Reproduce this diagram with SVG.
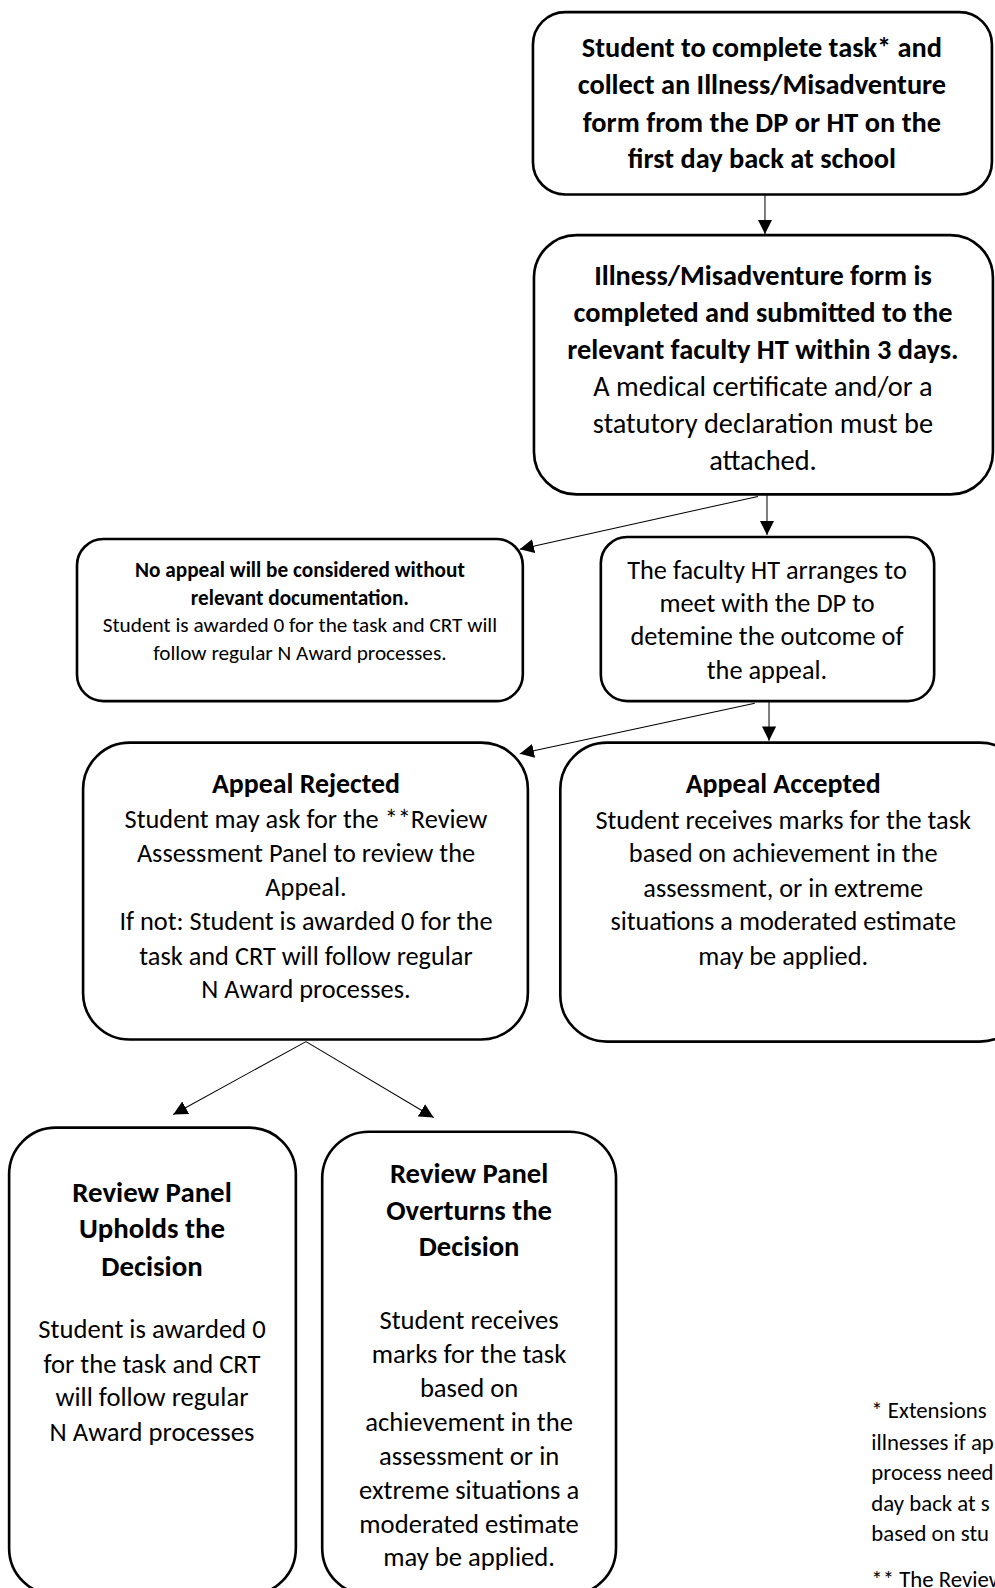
<svg xmlns="http://www.w3.org/2000/svg" width="995" height="1588" viewBox="0 0 995 1588">
<defs>
<marker id="ahb" viewBox="0 0 10 10" refX="10" refY="5" markerWidth="14" markerHeight="14" markerUnits="userSpaceOnUse" orient="auto">
<path d="M0,0 L10,5 L0,10 z" fill="#000"/>
</marker>
</defs>
<style>
.box{fill:#fff;stroke:#000;stroke-width:2.6}
text{font-family:Carlito,Calibri,Lato,"Liberation Sans",sans-serif;fill:#000;text-anchor:middle}
.b{font-weight:bold}
.c{stroke:#000;stroke-width:1;fill:none}
.fn{text-anchor:start;font-size:22.5px}
</style>
<rect width="995" height="1588" fill="#fff"/>
<g transform="scale(1.0132)">
<g id="connectors">
<line class="c" x1="755" y1="192" x2="755" y2="231" marker-end="url(#ahb)"/>
<line class="c" x1="757" y1="488" x2="757" y2="528" marker-end="url(#ahb)"/>
<line class="c" x1="748" y1="490" x2="513" y2="542" marker-end="url(#ahb)"/>
<line class="c" x1="759" y1="692" x2="759" y2="731" marker-end="url(#ahb)"/>
<line class="c" x1="745" y1="694" x2="513" y2="744" marker-end="url(#ahb)"/>
<line class="c" x1="302" y1="1028" x2="171" y2="1100" marker-end="url(#ahb)"/>
<line class="c" x1="302" y1="1028" x2="428" y2="1103" marker-end="url(#ahb)"/>
</g>
<g id="n1">
<rect class="box" x="526" y="12" width="453" height="180" rx="32"/>
<text class="b" font-size="28"><tspan x="752" y="56">Student to complete task* and</tspan><tspan x="752" y="93">collect an Illness/Misadventure</tspan><tspan x="752" y="130">form from the DP or HT on the</tspan><tspan x="752" y="166">first day back at school</tspan></text>
</g>
<g id="n2">
<rect class="box" x="527" y="232" width="453" height="256" rx="42"/>
<text font-size="28"><tspan class="b" x="753" y="281">Illness/Misadventure form is</tspan><tspan class="b" x="753" y="318">completed and submitted to the</tspan><tspan class="b" x="753" y="354">relevant faculty HT within 3 days.</tspan><tspan x="753" y="391">A medical certificate and/or a</tspan><tspan x="753" y="427">statutory declaration must be</tspan><tspan x="753" y="464">attached.</tspan></text>
</g>
<g id="n3">
<rect class="box" x="76" y="532" width="440" height="160" rx="26"/>
<text font-size="21"><tspan class="b" x="296" y="569">No appeal will be considered without</tspan><tspan class="b" x="296" y="597">relevant documentation.</tspan><tspan x="296" y="624">Student is awarded 0 for the task and CRT will</tspan><tspan x="296" y="651">follow regular N Award processes.</tspan></text>
</g>
<g id="n4">
<rect class="box" x="593" y="530" width="329" height="162" rx="26"/>
<text font-size="26"><tspan x="757" y="571">The faculty HT arranges to</tspan><tspan x="757" y="604">meet with the DP to</tspan><tspan x="757" y="637">detemine the outcome of</tspan><tspan x="757" y="670">the appeal.</tspan></text>
</g>
<g id="n5">
<rect class="box" x="82" y="733" width="439" height="293" rx="46"/>
<text font-size="26"><tspan class="b" font-size="27.5" x="302" y="783">Appeal Rejected</tspan><tspan x="302" y="817">Student may ask for the **Review</tspan><tspan x="302" y="851">Assessment Panel to review the</tspan><tspan x="302" y="884">Appeal.</tspan><tspan x="302" y="918">If not: Student is awarded 0 for the</tspan><tspan x="302" y="952">task and CRT will follow regular</tspan><tspan x="302" y="985">N Award processes.</tspan></text>
</g>
<g id="n6">
<rect class="box" x="553" y="733" width="460" height="295" rx="46"/>
<text font-size="26"><tspan class="b" font-size="27.5" x="773" y="783">Appeal Accepted</tspan><tspan x="773" y="818">Student receives marks for the task</tspan><tspan x="773" y="851">based on achievement in the</tspan><tspan x="773" y="885">assessment, or in extreme</tspan><tspan x="773" y="918">situations a moderated estimate</tspan><tspan x="773" y="952">may be applied.</tspan></text>
</g>
<g id="n7">
<rect class="box" x="9" y="1113" width="283" height="461" rx="46"/>
<text font-size="26.3"><tspan class="b" font-size="28.5" x="150" y="1186">Review Panel</tspan><tspan class="b" font-size="28.5" x="150" y="1222">Upholds the</tspan><tspan class="b" font-size="28.5" x="150" y="1259">Decision</tspan><tspan x="150" y="1321">Student is awarded 0</tspan><tspan x="150" y="1355">for the task and CRT</tspan><tspan x="150" y="1388">will follow regular</tspan><tspan x="150" y="1422">N Award processes</tspan></text>
</g>
<g id="n8">
<rect class="box" x="318" y="1117" width="290" height="457" rx="46"/>
<text font-size="26.3"><tspan class="b" font-size="28.3" x="463" y="1168">Review Panel</tspan><tspan class="b" font-size="28.3" x="463" y="1204">Overturns the</tspan><tspan class="b" font-size="28.3" x="463" y="1240">Decision</tspan><tspan x="463" y="1312">Student receives</tspan><tspan x="463" y="1345">marks for the task</tspan><tspan x="463" y="1379">based on</tspan><tspan x="463" y="1412">achievement in the</tspan><tspan x="463" y="1446">assessment or in</tspan><tspan x="463" y="1479">extreme situations a</tspan><tspan x="463" y="1513">moderated estimate</tspan><tspan x="463" y="1546">may be applied.</tspan></text>
</g>
<g id="footnote">
<text class="fn"><tspan x="860" y="1400">* Extensions</tspan><tspan x="860" y="1431">illnesses if ap</tspan><tspan x="860" y="1461">process need</tspan><tspan x="860" y="1491">day back at s</tspan><tspan x="860" y="1521">based on stu</tspan><tspan x="860" y="1566">** The Review</tspan></text>
</g>
</g>
</svg>
